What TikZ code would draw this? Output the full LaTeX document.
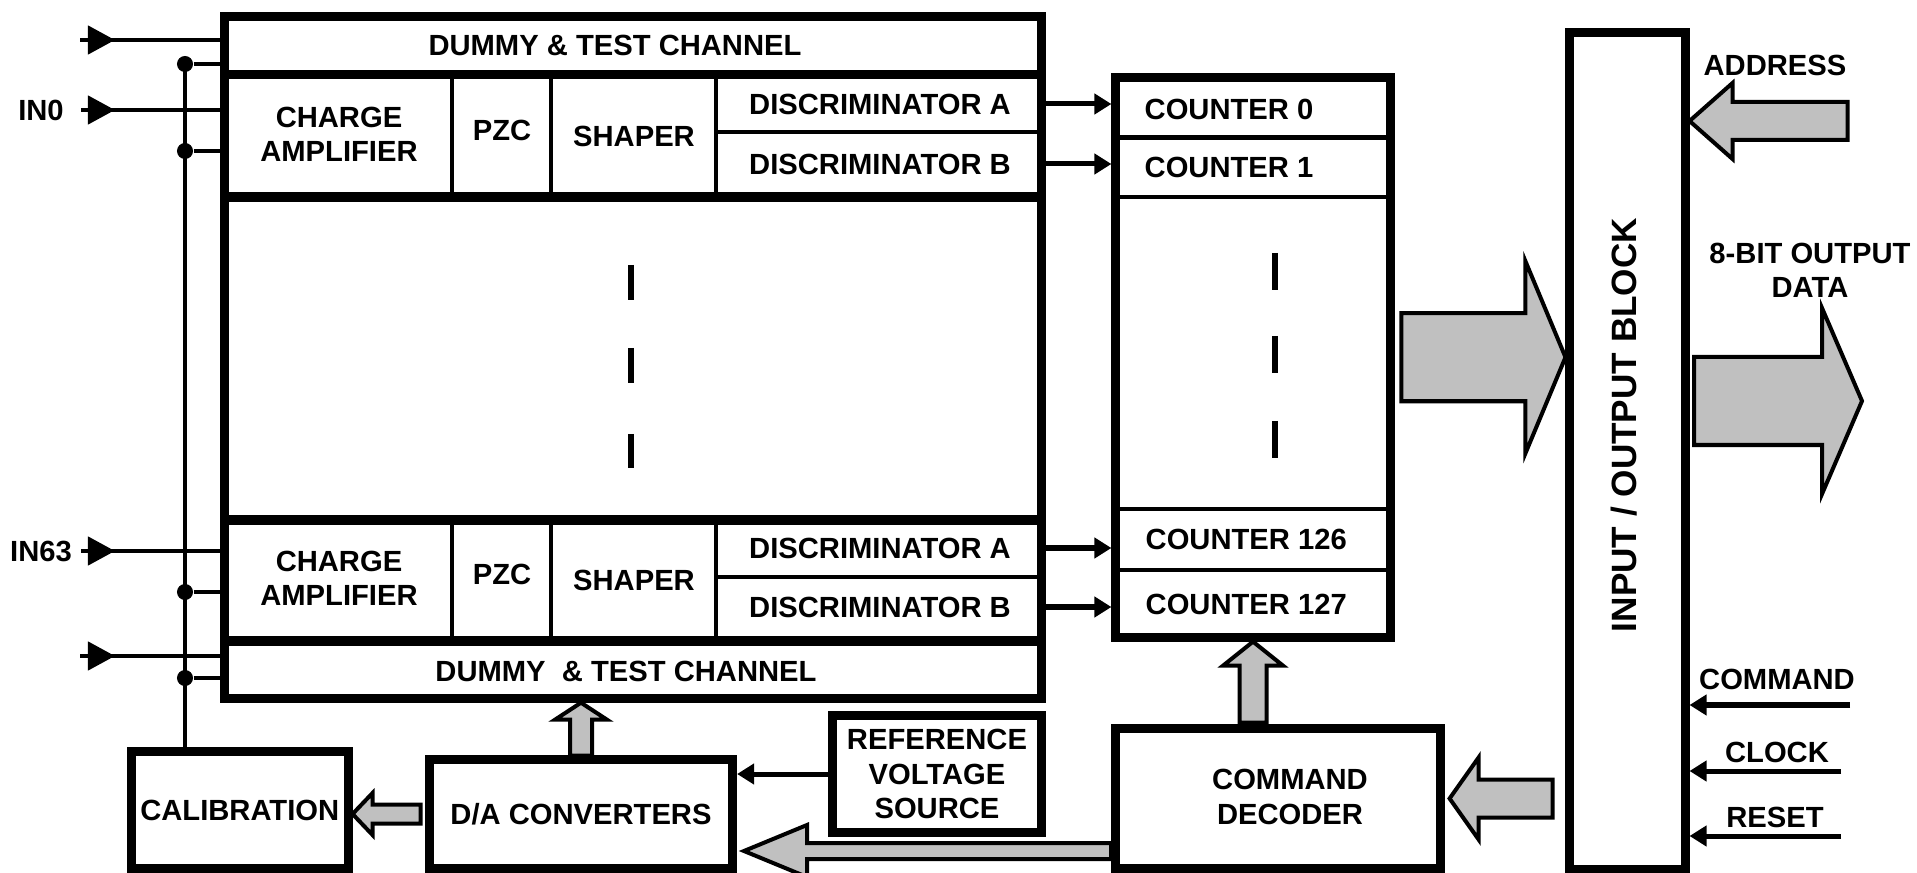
\documentclass[tikz,border=0pt]{standalone}
\usepackage{fontspec}
\setmainfont{Liberation Sans}
\usetikzlibrary{arrows.meta,calc}
\definecolor{fillgray}{HTML}{C0C0C0}
\tikzset{
  frame/.style={draw, line width=0.09cm, inner sep=0pt},
  wire/.style={line width=0.045cm},
  sig/.style={line width=0.05cm, -{Triangle[length=0.17cm,width=0.2cm]}},
  fat/.style={draw, fill=fillgray, line width=0.04cm, line join=miter},
  lbl/.style={inner sep=0pt, align=center, font=\bfseries\fontsize{8.3}{9.7}\selectfont},
  junc/.style={circle, fill, inner sep=0pt, minimum size=0.16cm}
}
\begin{document}
\begin{tikzpicture}[x=0.01cm, y=-0.01cm]
\useasboundingbox (0,0) rectangle (1917,873);
% Draw the blocks
\node[frame, minimum width=8.165cm, minimum height=6.815cm] (chip) at (633.25,357.25) {};
\node[frame, minimum width=2.74cm, minimum height=5.595cm] (cnt) at (1253,357.25) {};
\node[frame, minimum width=1.15cm, minimum height=8.36cm] (io) at (1627.5,451) {};
\node[frame, lbl, minimum width=2.165cm, minimum height=1.16cm] (cal) at (239.75,810) {CALIBRATION};
\node[frame, lbl, minimum width=3.03cm, minimum height=1.08cm] (dac) at (581,814) {D/A CONVERTERS};
\node[frame, lbl, minimum width=2.08cm, minimum height=1.17cm] (ref) at (937,774) {REFERENCE\\VOLTAGE\\SOURCE};
\node[frame, minimum width=3.24cm, minimum height=1.39cm] (dec) at (1278,798.5) {};

% Channel rows inside the chip
\draw[line width=0.09cm] (225,75) -- (1041.5,75) (225,197) -- (1041.5,197);
\draw[line width=0.09cm] (225,520) -- (1041.5,520) (225,641) -- (1041.5,641);
\draw[wire] (452,75) -- (452,197) (551,75) -- (551,197) (716,75) -- (716,197);
\draw[wire] (452,520) -- (452,641) (551,520) -- (551,641) (716,520) -- (716,641);
\draw[wire] (716,132) -- (1041.5,132) (716,577) -- (1041.5,577);
\draw[line width=0.06cm] (631,265) -- (631,300) (631,348) -- (631,383) (631,434) -- (631,468);

% Counter rows
\draw[wire] (1116,137.5) -- (1390,137.5) (1116,197) -- (1390,197);
\draw[wire] (1116,509) -- (1390,509) (1116,570) -- (1390,570);
\draw[line width=0.06cm] (1275,253) -- (1275,290) (1275,336) -- (1275,373) (1275,421) -- (1275,458);

\node[lbl] (dum0) at (615,45) {DUMMY \& TEST CHANNEL};
\node[lbl] (amp0) at (339,134) {CHARGE\\AMPLIFIER};
\node[lbl] (pzc0) at (502,130) {PZC};
\node[lbl] (shp0) at (634,136) {SHAPER};
\node[lbl] (disa0) at (880,104) {DISCRIMINATOR A};
\node[lbl] (disb0) at (880,164) {DISCRIMINATOR B};
\node[lbl] (amp63) at (339,578) {CHARGE\\AMPLIFIER};
\node[lbl] (pzc63) at (502,574) {PZC};
\node[lbl] (shp63) at (634,580) {SHAPER};
\node[lbl] (disa63) at (880,548) {DISCRIMINATOR A};
\node[lbl] (disb63) at (880,607) {DISCRIMINATOR B};
\node[lbl] (dum1) at (626,671) {DUMMY \ \& TEST CHANNEL};

\node[lbl, anchor=west] (c0) at (1144,109) {COUNTER 0};
\node[lbl, anchor=west] (c1) at (1144,167) {COUNTER 1};
\node[lbl, anchor=west] (c126) at (1145,539) {COUNTER 126};
\node[lbl, anchor=west] (c127) at (1145,604) {COUNTER 127};

\node[lbl, rotate=90, font=\bfseries\fontsize{10}{12}\selectfont] (iotxt) at (1624,425) {INPUT / OUTPUT BLOCK};
\node[lbl] (dectxt) at (1290,797) {COMMAND\\DECODER};

% Inputs and calibration bus
\node[lbl] (in0txt) at (41,110) {IN0};
\node[lbl] (in63txt) at (41,551) {IN63};
\coordinate (inA) at (80,40);
\coordinate (in0) at (81,110);
\coordinate (in63) at (81,551);
\coordinate (inB) at (80,656);
\draw[wire] (inA) -- (inA -| chip.west) (in0) -- (in0 -| chip.west);
\draw[wire] (in63) -- (in63 -| chip.west) (inB) -- (inB -| chip.west);
\draw[wire, -{Triangle[length=0.27cm,width=0.28cm]}] (inA) -- ++(35,0);
\draw[wire, -{Triangle[length=0.27cm,width=0.28cm]}] (in0) -- ++(34,0);
\draw[wire, -{Triangle[length=0.27cm,width=0.28cm]}] (in63) -- ++(34,0);
\draw[wire, -{Triangle[length=0.27cm,width=0.28cm]}] (inB) -- ++(35,0);
\node[junc] (j0) at (185,64) {};
\node[junc] (j1) at (185,151) {};
\node[junc] (j2) at (185,592) {};
\node[junc] (j3) at (185,678) {};
\draw[wire] (j0.center) -- (j0.center |- cal.north);
\draw[wire] (j0) -- (j0 -| chip.west) (j1) -- (j1 -| chip.west);
\draw[wire] (j2) -- (j2 -| chip.west) (j3) -- (j3 -| chip.west);

% Discriminators to counters
\draw[sig] (disa0 -| chip.east) -- (disa0 -| cnt.west);
\draw[sig] (disb0 -| chip.east) -- (disb0 -| cnt.west);
\draw[sig] (disa63 -| chip.east) -- (disa63 -| cnt.west);
\draw[sig] (disb63 -| chip.east) -- (disb63 -| cnt.west);
\draw[sig] (ref.west) -- (ref.west -| dac.east);

% Right side signals
\node[lbl] (addrtxt) at (1775,65) {ADDRESS};
\node[lbl] (datatxt) at (1810,270) {8-BIT OUTPUT\\DATA};
\node[lbl] (cmdtxt) at (1777,679) {COMMAND};
\node[lbl] (clktxt) at (1777,752) {CLOCK};
\node[lbl] (rsttxt) at (1775,817) {RESET};
\coordinate (cmdin) at (1850,705);
\coordinate (clkin) at (1841,771);
\coordinate (rstin) at (1841,836);
\draw[sig] (cmdin) -- (cmdin -| io.east);
\draw[sig] (clkin) -- (clkin -| io.east);
\draw[sig] (rstin) -- (rstin -| io.east);

% Bus arrows
\coordinate (addr) at (1848,121);
\coordinate (dout) at (1862,401);
\coordinate (dacin) at (744,851);
\draw[fat] (io.west |- cnt.east) -- ++(-40,-96) -- ++(0,52) -- ++(-124,0) -- ++(0,88) -- ++(124,0) -- ++(0,52) -- cycle;
\draw[fat] (dout) -- ++(-40,-93) -- ++(0,49) -- ++(-128,0) -- ++(0,88) -- ++(128,0) -- ++(0,49) -- cycle;
\draw[fat] (io.east |- addr) -- ++(43,-38) -- ++(0,19) -- ++(115,0) -- ++(0,38) -- ++(-115,0) -- ++(0,19) -- cycle;
\draw[fat] ([xshift=0.05cm]dec.east) -- ++(29,-41) -- ++(0,22) -- ++(74,0) -- ++(0,38) -- ++(-74,0) -- ++(0,22) -- cycle;
\draw[fat] (cnt.south) -- ++(30,24) -- ++(-16.5,0) -- ++(0,57) -- ++(-27,0) -- ++(0,-57) -- ++(-16.5,0) -- cycle;
\draw[fat] (dac.north |- chip.south) -- ++(26,17) -- ++(-15,0) -- ++(0,36) -- ++(-22,0) -- ++(0,-36) -- ++(-15,0) -- cycle;
\draw[fat] (cal.east |- dac.west) -- ++(20,-21) -- ++(0,11.5) -- ++(48,0) -- ++(0,19) -- ++(-48,0) -- ++(0,11.5) -- cycle;
\draw[fat] (dacin) -- ++(63,-26) -- ++(0,18) -- ++(304,0) -- ++(0,16) -- ++(-304,0) -- ++(0,18) -- cycle;
\end{tikzpicture}
\end{document}
